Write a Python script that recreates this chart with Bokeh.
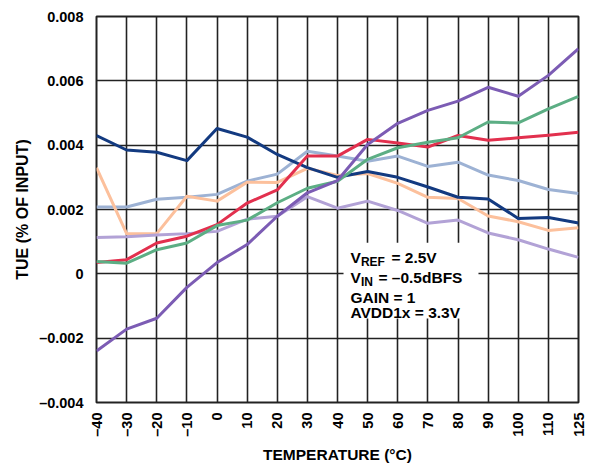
from bokeh.plotting import figure
from bokeh.models import FixedTicker, Label, BoxAnnotation
from bokeh.embed import file_html
from bokeh.resources import INLINE
import math

temps = ["–40", "–30", "–20", "–10", "0", "10", "20", "30", "40", "50", "60",
         "70", "80", "90", "100", "110", "125"]

navy = [0.00430, 0.00385, 0.00378, 0.00352, 0.00452, 0.00425, 0.00371, 0.00330,
        0.00300, 0.00318, 0.00300, 0.00270, 0.00238, 0.00233, 0.00172, 0.00175, 0.00158]
steel = [0.00208, 0.00208, 0.00232, 0.00238, 0.00247, 0.00288, 0.00310, 0.00381,
         0.00366, 0.00350, 0.00366, 0.00334, 0.00347, 0.00307, 0.00290, 0.00262, 0.00250]
peach = [0.00330, 0.00125, 0.00125, 0.00241, 0.00226, 0.00285, 0.00284, 0.00328,
         0.00306, 0.00312, 0.00281, 0.00238, 0.00234, 0.00180, 0.00162, 0.00135, 0.00143]
lavender = [0.00113, 0.00115, 0.00121, 0.00125, 0.00132, 0.00170, 0.00179, 0.00240,
            0.00204, 0.00226, 0.00197, 0.00157, 0.00167, 0.00127, 0.00106, 0.00077, 0.00051]
red = [0.00035, 0.00044, 0.00096, 0.00117, 0.00153, 0.00220, 0.00261, 0.00366,
       0.00366, 0.00418, 0.00407, 0.00394, 0.00430, 0.00415, 0.00423, 0.00431, 0.00440]
green = [0.00038, 0.00033, 0.00075, 0.00096, 0.00150, 0.00167, 0.00221, 0.00266,
         0.00288, 0.00356, 0.00392, 0.00409, 0.00423, 0.00472, 0.00469, 0.00513, 0.00552]
purple = [-0.00240, -0.00172, -0.00138, -0.00042, 0.00035, 0.00091, 0.00179, 0.00252,
          0.00290, 0.00402, 0.00468, 0.00508, 0.00537, 0.00580, 0.00552, 0.00617, 0.00700]

y_ticks = [-0.004, -0.002, 0.0, 0.002, 0.004, 0.006, 0.008]
y_tick_labels = ["–0.004", "–0.002", "0", "0.002", "0.004", "0.006", "0.008"]

series = [
    (steel, "#9db2d4"),
    (peach, "#fcc09c"),
    (lavender, "#b2a2d6"),
    (navy, "#133a80"),
    (red, "#e2304e"),
    (green, "#5cae84"),
    (purple, "#7c5cb4"),
]

xs = list(range(len(temps)))

p = figure(width=610, height=465, output_backend="svg", toolbar_location=None,
           x_range=(0, len(temps) - 1), y_range=(-0.004, 0.008),
           min_border_left=96, min_border_right=32, min_border_top=16, min_border_bottom=63)

p.outline_line_color = "#222222"
p.outline_line_width = 2
p.background_fill_color = "white"
p.border_fill_color = "white"

font = "Liberation Sans"

p.xaxis.ticker = FixedTicker(ticks=xs)
p.xaxis.major_label_overrides = {i: t for i, t in enumerate(temps)}
p.xaxis.major_label_orientation = math.pi / 2
p.yaxis.ticker = FixedTicker(ticks=y_ticks)
p.yaxis.major_label_overrides = {v: t for v, t in zip(y_ticks, y_tick_labels)}

for ax in (p.xaxis, p.yaxis):
    ax.axis_line_color = None
    ax.major_tick_line_color = None
    ax.minor_tick_line_color = None
    ax.major_tick_out = 0
    ax.major_tick_in = 0
    ax.major_label_text_font = font
    ax.major_label_text_font_style = "bold"
    ax.major_label_text_font_size = "14.5px"
    ax.major_label_text_color = "black"
    ax.axis_label_text_font = font
    ax.axis_label_text_font_style = "bold"
    ax.axis_label_text_color = "black"
p.xaxis.axis_label_text_font_size = "15.5px"
p.yaxis.axis_label_text_font_size = "16px"
p.xaxis.major_label_standoff = 10
p.yaxis.major_label_standoff = 13
p.xaxis.axis_label = "TEMPERATURE (°C)"
p.yaxis.axis_label = "TUE (% OF INPUT)"
p.xaxis.axis_label_standoff = 6
p.yaxis.axis_label_standoff = 5

p.xgrid.ticker = FixedTicker(ticks=xs)
p.ygrid.ticker = FixedTicker(ticks=y_ticks)
for g in (p.xgrid, p.ygrid):
    g.grid_line_color = "#222222"
    g.grid_line_width = 1.6

for ys, c in series:
    p.line(xs, ys, line_color=c, line_width=3, line_join="round")

box = BoxAnnotation(left=8.2, right=12.68, bottom=-0.00139, top=0.00097,
                    fill_color="white", fill_alpha=1.0, line_color=None)
p.add_layout(box)

tx = 8.43
main_size = "15.5px"
sub_size = "12px"
lines_y = [0.000498, -0.000123, -0.000727, -0.001212]


def lab(x, y, text, size=main_size, x_off=0, y_off=0):
    p.add_layout(Label(x=x, y=y, text=text, x_offset=x_off, y_offset=y_off,
                       text_font=font, text_font_style="bold", text_font_size=size,
                       text_color="black", text_baseline="alphabetic"))


lab(tx, lines_y[0], "V")
lab(tx, lines_y[0], "REF", size=sub_size, x_off=10.5, y_off=-4)
lab(tx, lines_y[0], "= 2.5V", x_off=41)
lab(tx, lines_y[1], "V")
lab(tx, lines_y[1], "IN", size=sub_size, x_off=10.5, y_off=-4)
lab(tx, lines_y[1], "= –0.5dBFS", x_off=28)
lab(tx, lines_y[2], "GAIN = 1")
lab(tx, lines_y[3], "AVDD1x = 3.3V")

open("out.html", "w").write(file_html(p, INLINE))
